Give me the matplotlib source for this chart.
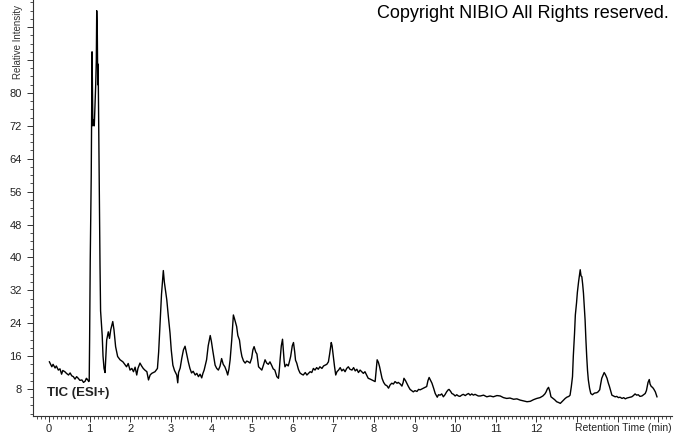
import matplotlib
matplotlib.use("Agg")
import matplotlib.pyplot as plt
from matplotlib.ticker import MultipleLocator, FixedLocator, FixedFormatter

# Retention time (min) and relative intensity
time_min = [
    0.01, 0.07, 0.10, 0.15, 0.18, 0.23, 0.27, 0.31, 0.34, 0.39, 0.43, 0.48, 0.52, 0.56, 0.60,
    0.64, 0.68, 0.72, 0.76, 0.81, 0.85, 0.89, 0.92, 0.94, 0.98, 0.99, 1.00, 1.015, 1.04, 1.06,
    1.08, 1.095, 1.115, 1.13, 1.15, 1.165, 1.175, 1.19, 1.20, 1.21, 1.225, 1.24, 1.256, 1.27,
    1.29, 1.31, 1.33, 1.355, 1.38, 1.42, 1.46, 1.49, 1.52, 1.57, 1.60, 1.64, 1.69, 1.75, 1.82,
    1.91, 1.95, 1.995, 2.04, 2.08, 2.12, 2.16, 2.19, 2.24, 2.28, 2.32, 2.36, 2.41, 2.45, 2.49,
    2.53, 2.57, 2.61, 2.67, 2.70, 2.73, 2.77, 2.815, 2.84, 2.90, 2.94, 2.98, 3.01, 3.05, 3.09,
    3.145, 3.17, 3.19, 3.23, 3.27, 3.31, 3.35, 3.39, 3.43, 3.47, 3.51, 3.55, 3.60, 3.64, 3.68,
    3.72, 3.76, 3.79, 3.82, 3.88, 3.92, 3.97, 4.00, 4.03, 4.09, 4.13, 4.17, 4.21, 4.25, 4.29,
    4.33, 4.37, 4.40, 4.43, 4.46, 4.50, 4.54, 4.57, 4.62, 4.65, 4.69, 4.72, 4.75, 4.79, 4.83,
    4.87, 4.91, 4.95, 4.99, 5.02, 5.05, 5.09, 5.12, 5.16, 5.20, 5.24, 5.28, 5.32, 5.36, 5.40,
    5.44, 5.48, 5.52, 5.56, 5.61, 5.65, 5.67, 5.69, 5.72, 5.75, 5.77, 5.79, 5.81, 5.85, 5.89,
    5.91, 5.95, 5.99, 6.02, 6.05, 6.07, 6.10, 6.14, 6.18, 6.22, 6.26, 6.31, 6.35, 6.39, 6.43,
    6.47, 6.51, 6.55, 6.59, 6.63, 6.67, 6.72, 6.76, 6.80, 6.84, 6.88, 6.91, 6.95, 6.97, 7.00,
    7.03, 7.06, 7.09, 7.13, 7.17, 7.21, 7.25, 7.29, 7.33, 7.37, 7.41, 7.46, 7.50, 7.54, 7.58,
    7.62, 7.66, 7.70, 7.74, 7.78, 7.82, 7.86, 7.91, 7.95, 7.99, 8.03, 8.06, 8.08, 8.11, 8.14,
    8.17, 8.20, 8.24, 8.28, 8.32, 8.36, 8.40, 8.44, 8.48, 8.52, 8.57, 8.60, 8.65, 8.69, 8.72,
    8.74, 8.78, 8.81, 8.85, 8.89, 8.93, 8.97, 9.01, 9.06, 9.10, 9.14, 9.18, 9.22, 9.26, 9.30,
    9.33, 9.36, 9.39, 9.43, 9.47, 9.51, 9.56, 9.59, 9.63, 9.67, 9.71, 9.75, 9.79, 9.83, 9.85,
    9.89, 9.92, 9.96, 10.00, 10.04, 10.08, 10.12, 10.16, 10.20, 10.25, 10.29, 10.33, 10.37,
    10.41, 10.45, 10.49, 10.53, 10.57, 10.62, 10.70, 10.78, 10.86, 10.94, 11.03, 11.11, 11.19,
    11.27, 11.35, 11.44, 11.52, 11.60, 11.68, 11.77, 11.85, 11.93, 12.01, 12.09, 12.16, 12.21,
    12.24, 12.27, 12.30, 12.33, 12.36, 12.40, 12.45, 12.50, 12.55, 12.59, 12.63, 12.67, 12.71,
    12.75, 12.80, 12.83, 12.86, 12.89, 12.91, 12.94, 12.96, 12.99, 13.01, 13.04, 13.06, 13.08,
    13.10, 13.12, 13.14, 13.16, 13.18, 13.20, 13.22, 13.24, 13.26, 13.28, 13.31, 13.34, 13.38,
    13.43, 13.49, 13.52, 13.56, 13.58, 13.61, 13.64, 13.67, 13.70, 13.74, 13.77, 13.80, 13.83,
    13.86, 13.90, 13.94, 13.98, 14.02, 14.06, 14.11, 14.15, 14.19, 14.23, 14.27, 14.31, 14.35,
    14.39, 14.43, 14.47, 14.51, 14.55, 14.60, 14.64, 14.68, 14.71, 14.73, 14.75, 14.78, 14.80,
    14.83, 14.86, 14.89, 14.93, 14.97,
]
intensity = [
    14.6, 13.4, 14.0, 13.1, 13.6, 12.6, 12.9, 11.6, 12.5, 12.2, 11.8, 11.4, 11.9, 11.2, 11.0,
    10.4, 11.0, 10.6, 10.1, 10.2, 9.6, 9.9, 10.6, 10.4, 9.8, 10.0, 20.0, 39.0, 60.0, 90.0,
    72.0, 73.5, 72.0, 76.0, 82.0, 88.0, 100.0, 94.0, 82.0, 87.0, 72.0, 55.0, 38.0, 27.0,
    24.0, 21.0, 16.0, 13.0, 12.0, 19.9, 21.9, 20.3, 22.4, 24.4, 22.4, 18.3, 15.9, 15.1, 14.6,
    13.4, 14.2, 12.6, 13.0, 12.2, 13.3, 11.4, 13.0, 14.3, 13.6, 13.0, 12.6, 12.2, 10.2, 11.4,
    11.8, 12.0, 12.2, 13.0, 17.0, 23.2, 31.0, 36.8, 34.0, 29.7, 25.5, 21.6, 17.5, 13.8, 12.5,
    11.4, 9.5, 12.0, 13.1, 15.5, 17.5, 18.4, 16.5, 14.6, 13.0, 11.9, 12.3, 11.4, 11.8, 11.0,
    11.6, 10.7, 11.8, 12.6, 15.1, 18.5, 21.0, 19.5, 17.5, 13.8, 13.0, 12.6, 13.5, 15.4, 14.0,
    13.4, 12.4, 11.4, 12.8, 15.1, 20.0, 26.0, 25.0, 23.2, 21.0, 19.9, 17.5, 15.9, 14.8, 14.3,
    14.8, 14.6, 14.3, 15.5, 17.5, 18.3, 17.0, 16.5, 13.4, 13.0, 12.6, 13.8, 15.1, 14.3, 14.0,
    14.6, 13.8, 12.9, 12.6, 11.0, 10.6, 12.5, 15.1, 18.5, 20.1, 17.5, 14.8, 13.4, 14.0, 13.6,
    14.3, 15.9, 18.5, 19.3, 17.0, 15.0, 14.3, 12.8, 11.9, 11.6, 11.4, 12.0, 11.4, 11.8, 12.2,
    12.0, 13.0, 12.6, 13.2, 12.8, 13.4, 13.0, 13.6, 13.8, 14.0, 14.6, 16.5, 19.3, 18.5, 15.9,
    13.5, 11.4, 12.2, 12.6, 13.2, 12.4, 12.8, 12.2, 13.0, 13.4, 12.8, 12.6, 13.2, 12.4, 12.8,
    12.0, 12.6, 12.2, 11.8, 12.2, 11.4, 10.6, 10.4, 10.2, 10.0, 9.8, 13.0, 15.1, 14.5, 13.4,
    12.0, 10.6, 9.6, 9.0, 8.8, 8.2, 9.0, 9.4, 9.2, 9.8, 9.4, 9.6, 9.2, 8.7, 9.6,
    10.6, 10.0, 9.4, 8.6, 7.9, 7.6, 7.3, 7.6, 7.4, 7.9, 7.8, 8.0, 8.2, 8.4, 8.6,
    10.0, 10.8, 10.2, 9.4, 8.2, 6.9, 6.0, 6.6, 6.5, 6.8, 6.1, 6.6, 7.3, 7.8, 7.9,
    7.4, 6.9, 6.7, 6.3, 6.6, 6.3, 6.2, 6.5, 6.7, 6.4, 6.7, 6.9, 6.5,
    6.8, 6.5, 6.7, 6.5, 6.3, 6.3, 6.5, 6.1, 6.3, 6.1, 6.4, 6.3, 5.9,
    5.7, 5.8, 5.5, 5.6, 5.3, 5.1, 4.9, 5.0, 5.4, 5.7, 5.9, 6.3, 6.8,
    7.3, 8.0, 8.4, 7.5, 6.1, 5.8, 5.4, 4.9, 4.7, 4.5, 4.9, 5.3, 5.7,
    6.0, 6.2, 6.5, 8.5, 11.0, 16.0, 21.5, 26.0, 29.0, 31.5, 34.1, 35.5, 37.0,
    35.5, 35.3, 33.5, 31.3, 28.0, 24.8, 20.0, 15.9, 12.5, 10.2, 8.2, 6.9, 6.6,
    7.0, 7.1, 7.3, 7.8, 9.0, 10.6, 11.3, 12.0, 11.5, 10.6, 9.5, 8.6, 7.5,
    6.5, 6.3, 6.1, 6.2, 5.9, 6.0, 5.7, 5.9, 5.6, 5.8, 5.9, 6.0, 6.1,
    6.4, 6.8, 6.5, 6.6, 6.2, 6.3, 6.6, 6.9, 7.6, 8.6, 9.6, 10.3, 9.2,
    8.6, 8.4, 8.0, 7.3, 6.1,
]

x_tick_values = list(range(0, 16))
x_tick_labels = [str(i) for i in range(0, 13)] + ["", "", ""]
y_tick_values = list(range(8, 97, 8))
y_tick_labels = [str(v) for v in range(8, 81, 8)] + ["", ""]

W, H = 674, 434
fig = plt.figure(figsize=(W / 100, H / 100), dpi=100)
ax = fig.add_axes([33 / W, 18 / H, (672 - 33) / W, (H - 18) / H])

ax.plot(time_min, intensity, color="black", lw=1.0)

ax.set_xlim(-0.394, 15.34)
ax.set_ylim(1.43, 102.6)

for s in ["top", "right"]:
    ax.spines[s].set_visible(False)
for s in ["left", "bottom"]:
    ax.spines[s].set_color("#333333")
    ax.spines[s].set_linewidth(0.8)

ax.xaxis.set_major_locator(FixedLocator(x_tick_values))
ax.xaxis.set_major_formatter(FixedFormatter(x_tick_labels))
ax.xaxis.set_minor_locator(MultipleLocator(0.1))
ax.yaxis.set_major_locator(FixedLocator(y_tick_values))
ax.yaxis.set_major_formatter(FixedFormatter(y_tick_labels))
ax.yaxis.set_minor_locator(MultipleLocator(2))

ax.tick_params(axis="both", which="major", length=4, width=0.7, color="#333333",
               labelsize=8, labelcolor="#222222", direction="out")
ax.tick_params(axis="both", which="minor", length=2.5, width=0.6, color="#333333",
               direction="out")
ax.tick_params(axis="x", which="major", pad=1.5)
ax.tick_params(axis="y", which="major", pad=4)

for lab in ax.get_xticklabels() + ax.get_yticklabels():
    lab.set_family("Liberation Sans")

fig.text(18 / W, 1 - 79 / H, "Relative Intensity", rotation=90, ha="center", va="bottom",
         fontsize=7, color="#333333", family="Liberation Sans")
fig.text(672 / W, 1 - 428 / H, "Retention Time (min)", ha="right", va="center",
         fontsize=7.5, color="#222222", family="Liberation Sans")
fig.text(47 / W, 1 - 393 / H, "TIC (ESI+)", ha="left", va="center",
         fontsize=9.5, fontweight="bold", color="#222222", family="Liberation Sans")
fig.text(377 / W, 1 - 14 / H, "Copyright NIBIO All Rights reserved.", ha="left", va="center",
         fontsize=13, color="black", family="Liberation Sans")

fig.savefig("out.png", dpi=100)
